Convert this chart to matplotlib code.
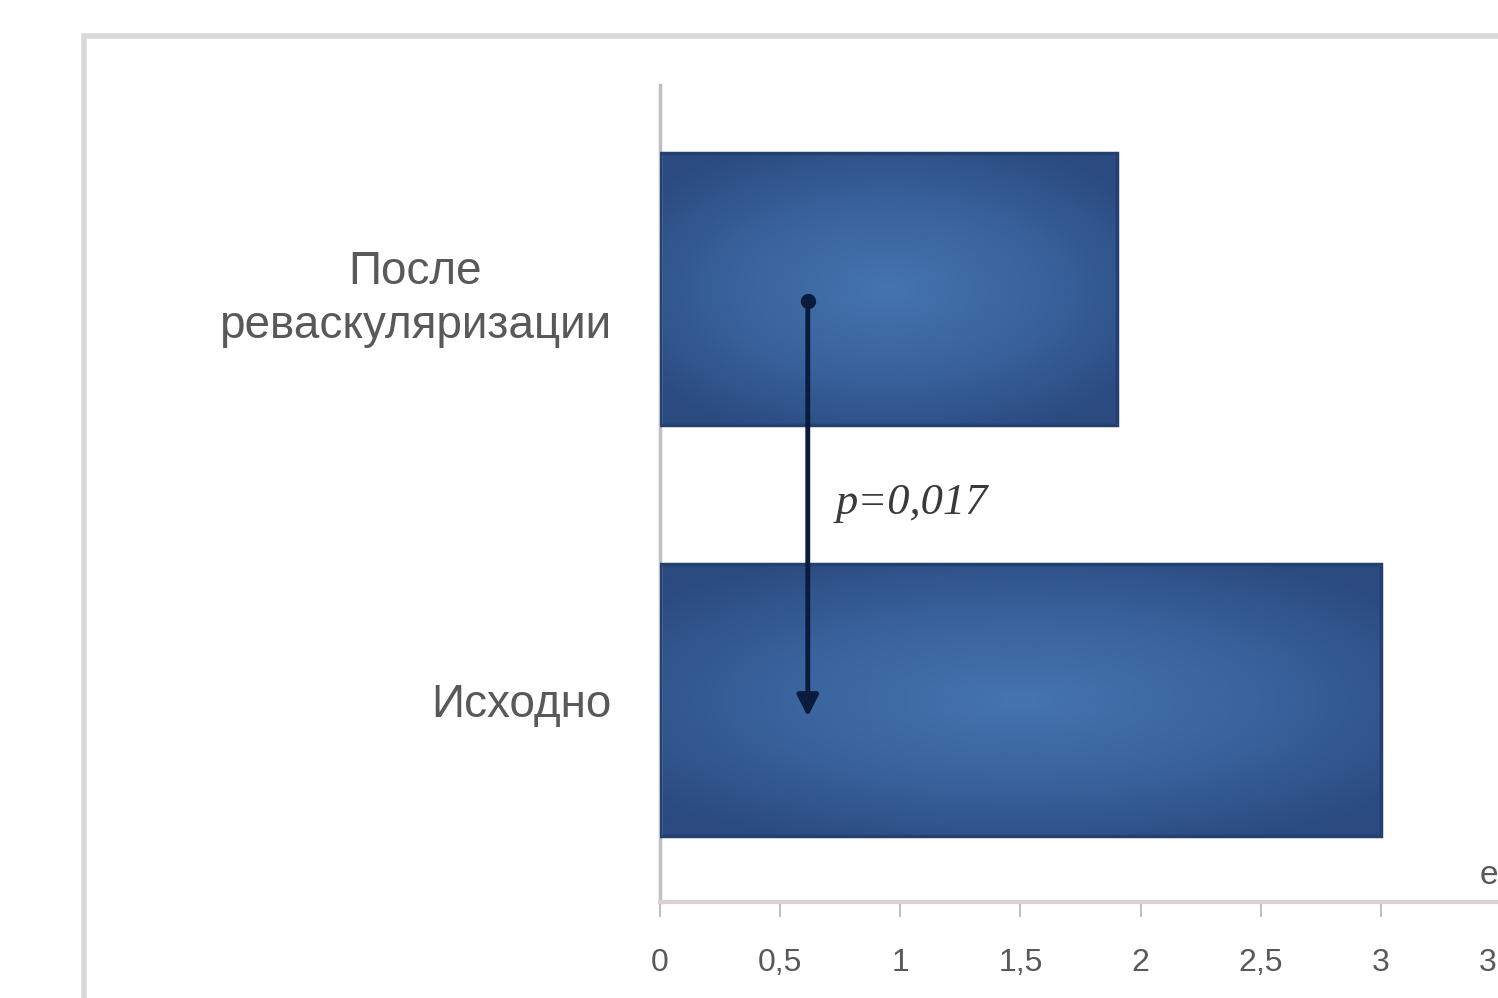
import numpy as np
import matplotlib
matplotlib.use("Agg")
import matplotlib.pyplot as plt
from matplotlib.colors import LinearSegmentedColormap
from matplotlib.patches import Rectangle
from matplotlib.ticker import FuncFormatter, MultipleLocator

# data
categories = ["Исходно", "После\nреваскуляризации"]
values = [3.0, 1.9]
p_label = "p=0,017"
x_max = 3.5

# annotation placement (data units)
arrow_x = 0.615
arrow_top = 0.97
arrow_bottom = -0.04
p_pos = (0.73, 0.48)

label_font = ["Liberation Sans", "DejaVu Sans"]
grey_text = "#595959"

fig = plt.figure(figsize=(14.98, 9.98), dpi=100)
fig.patch.set_facecolor("white")

# outer chart-area frame (cropped on right/bottom in the original)
fig.patches.append(Rectangle((84 / 1498, -0.05), 1.0, 1.0 - 36 / 998 + 0.05,
                             transform=fig.transFigure, fill=False,
                             edgecolor="#d9d9d9", linewidth=4, zorder=0))

ax = fig.add_axes([660 / 1498, 1 - 902 / 998, 841 / 1498, (902 - 85) / 998])
ax.set_facecolor("none")

ypos = np.arange(len(categories))
bars = ax.barh(ypos, values, height=0.66, facecolor="none",
               edgecolor="#23406f", linewidth=2.5, zorder=3)

# radial gradient fill for each bar, clipped to the bar shape
cmap = LinearSegmentedColormap.from_list("bar", ["#2a4a80", "#3a639d", "#4574ae"])
gx, gy = np.meshgrid(np.linspace(-1, 1, 300), np.linspace(-1, 1, 200))
grad = 1 - np.clip(np.sqrt((gx * 0.9) ** 2 + gy ** 2) / 1.2, 0, 1)
for b in bars:
    x0, y0 = b.get_x(), b.get_y()
    im = ax.imshow(grad, cmap=cmap, aspect="auto", zorder=2,
                   extent=(x0, x0 + b.get_width(), y0, y0 + b.get_height()))
    im.set_clip_path(b)

ax.set_xlim(0, x_max)
ax.set_ylim(-0.49, 1.495)

# p-value arrow
ax.annotate("", xy=(arrow_x, arrow_bottom), xytext=(arrow_x, arrow_top),
            arrowprops=dict(arrowstyle="-|>", color="#0a1b3d", lw=3.5,
                            mutation_scale=32, shrinkA=0, shrinkB=0), zorder=5)
ax.plot([arrow_x], [arrow_top], "o", color="#0a1b3d", ms=10, zorder=5)
ax.text(p_pos[0], p_pos[1], p_label, fontsize=32, style="italic",
        family=["Liberation Serif", "DejaVu Serif"], color="#3a3a3a",
        va="center", ha="left", zorder=5)

# axes styling
for s in ["top", "right"]:
    ax.spines[s].set_visible(False)
ax.spines["left"].set_color("#bfbfbf")
ax.spines["left"].set_linewidth(2.5)
ax.spines["bottom"].set_color("#dccfcf")
ax.spines["bottom"].set_linewidth(3)

ax.xaxis.set_major_locator(MultipleLocator(0.5))
ax.xaxis.set_major_formatter(FuncFormatter(lambda v, _: ("%g" % v).replace(".", ",")))
ax.tick_params(axis="x", direction="out", length=11, width=1.5, color="#bfbfbf",
               pad=22, labelsize=23, labelcolor=grey_text)
ax.tick_params(axis="y", length=0, pad=35, labelsize=33, labelcolor=grey_text)
for t in ax.get_xticklabels():
    t.set_family(label_font)

ax.set_yticks(ypos)
ax.set_yticklabels(categories)
for t in ax.get_yticklabels():
    t.set_family(label_font)
    t.set_multialignment("center")
    t.set_linespacing(1.3)

# cut-off unit label at the right edge
fig.text(1.0, 1 - 876 / 998, "е", ha="right", va="center", fontsize=24,
         color=grey_text, family=label_font)

fig.savefig("out.png", dpi=100)
